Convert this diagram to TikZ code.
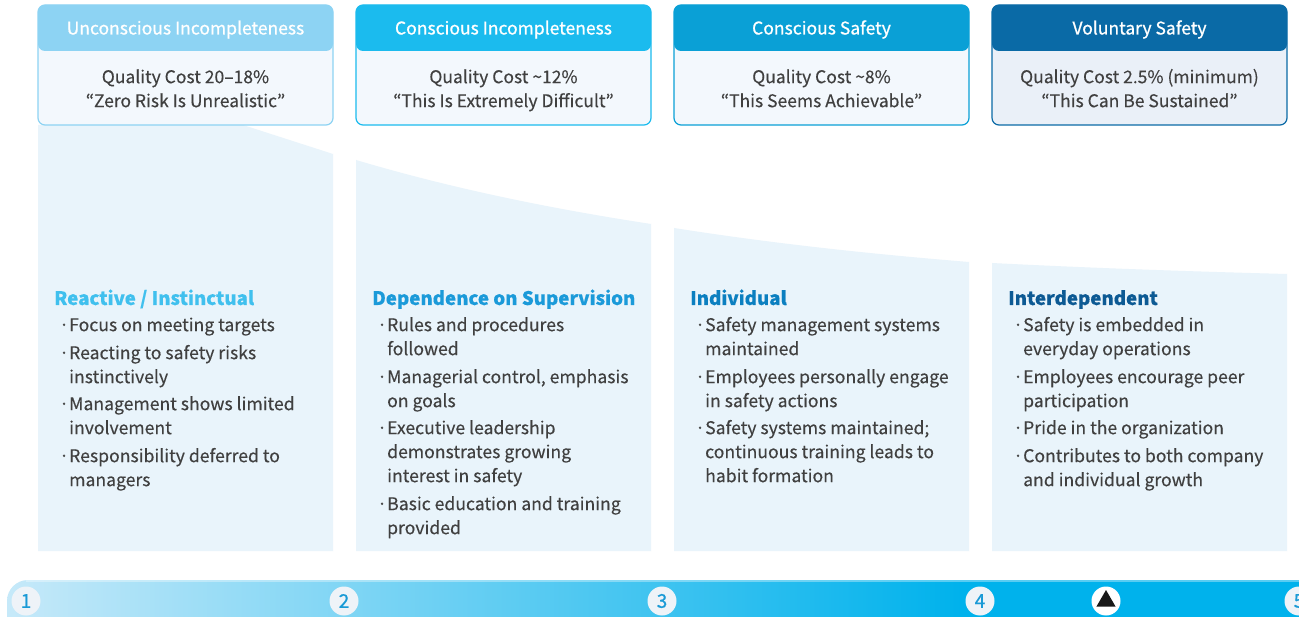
\documentclass[tikz,border=0pt]{standalone}
\usepackage{fontspec}
\setmainfont[FakeBold=0.3]{Noto Sans CJK KR}
\newfontfamily\medfont[FakeBold=0.8]{Noto Sans CJK KR}
\usetikzlibrary{shapes.geometric}
\definecolor{hA}{HTML}{8DD3F3}
\definecolor{hB}{HTML}{1BBBEE}
\definecolor{hC}{HTML}{0AA0D6}
\definecolor{hD}{HTML}{0A6AA6}
\definecolor{bodyA}{HTML}{F3F8FD}
\definecolor{bodyD}{HTML}{EAF0F8}
\definecolor{panelc}{HTML}{E9F4FB}
\definecolor{txt}{HTML}{404040}
\definecolor{tA}{HTML}{40C0EE}
\definecolor{tB}{HTML}{1B9AD9}
\definecolor{tC}{HTML}{0B7FC0}
\definecolor{tD}{HTML}{0D5A94}
\definecolor{barL}{HTML}{C6E9F9}
\definecolor{barR}{HTML}{00B2EC}
\definecolor{circfill}{HTML}{EEF3F8}
\definecolor{numc}{HTML}{1A9AD6}
\newcommand{\fl}{\rule{0pt}{18pt}}
\newcommand{\bu}{\makebox[10pt][l]{·}}
\newcommand{\ii}{\hspace*{10pt}}
\tikzset{
  htitle/.style={text=white, font=\medfont\fontsize{17.5}{24}\selectfont, anchor=base, inner sep=0},
  hbody/.style={text=txt, font=\fontsize{17.5}{24}\selectfont, anchor=north, align=center, inner sep=0},
  ptitle/.style={font=\fontsize{18.7}{24}\selectfont\bfseries, anchor=base west, inner sep=0},
  item/.style={text=txt, font=\fontsize{17.6}{24}\selectfont, anchor=north west, align=left, inner sep=0},
  circ/.style={circle, fill=circfill, minimum size=29pt, inner sep=0, text=numc, font=\medfont\fontsize{19}{20}\selectfont},
}
\begin{document}
\begin{tikzpicture}[x=1pt,y=-1pt]
\useasboundingbox (0,0) rectangle (1299,617);
\clip (0,0) rectangle (1299,617);
\fill[white] (0,0) rectangle (1299,617);
% panels
\fill[panelc] (38,125) -- (243,125) -- (333,154) -- (333,551) -- (38,551) -- cycle;
\fill[panelc] (356,160) .. controls (454.3,189.2) and (552.7,208.9) .. (651,224) -- (651,551) -- (356,551) -- cycle;
\fill[panelc] (674,228) .. controls (772.3,243.5) and (870.7,254) .. (969,262) -- (969,551) -- (674,551) -- cycle;
\fill[panelc] (992,263) .. controls (1090.3,268) and (1188.7,271.4) .. (1287,274) -- (1287,551) -- (992,551) -- cycle;
% header boxes
\foreach \xl/\hc/\bc in {38/hA/bodyA, 356/hB/bodyA, 674/hC/bodyA, 992/hD/bodyD}{
  \fill[\bc, rounded corners=7] (\xl,5) rectangle ({\xl+295},125);
  \fill[\hc, rounded corners=7] (\xl,51) -- (\xl,5) -- ({\xl+295},5) -- ({\xl+295},51) -- cycle;
  \draw[\hc, line width=1.2, rounded corners=7] (\xl,5) rectangle ({\xl+295},125);
}
\node[htitle] (hta) at (185.5,34.5) {Unconscious Incompleteness};
\node[htitle] (htb) at (503.5,34.5) {Conscious Incompleteness};
\node[htitle] (htc) at (821.5,34.5) {Conscious Safety};
\node[htitle] (htd) at (1139.5,34.5) {Voluntary Safety};
\node[hbody] (hba) at (185.5,65) {\fl Quality Cost 20–18\%\\“Zero Risk Is Unrealistic”};
\node[hbody] (hbb) at (503.5,65) {\fl Quality Cost \textasciitilde12\%\\“This Is Extremely Difficult”};
\node[hbody] (hbc) at (821.5,65) {\fl Quality Cost \textasciitilde8\%\\“This Seems Achievable”};
\node[hbody] (hbd) at (1139.5,65) {\fl Quality Cost 2.5\% (minimum)\\“This Can Be Sustained”};
% panel 1
\node[ptitle, text=tA] (pa) at (54,305) {Reactive / Instinctual};
\node[item] (a1) at (59,313) {\fl\bu Focus on meeting targets};
\node[item] (a2) at (59,341) {\fl\bu Reacting to safety risks\\\ii instinctively};
\node[item] (a3) at (59,392) {\fl\bu Management shows limited\\\ii involvement};
\node[item] (a4) at (59,444) {\fl\bu Responsibility deferred to\\\ii managers};
% panel 2
\node[ptitle, text=tB] (pb) at (372,305) {Dependence on Supervision};
\node[item] (b1) at (377,313) {\fl\bu Rules and procedures\\\ii followed};
\node[item] (b2) at (377,365) {\fl\bu Managerial control, emphasis\\\ii on goals};
\node[item] (b3) at (377,416) {\fl\bu Executive leadership\\\ii demonstrates growing\\\ii interest in safety};
\node[item] (b4) at (377,492) {\fl\bu Basic education and training\\\ii provided};
% panel 3
\node[ptitle, text=tC] (pc) at (690,305) {Individual};
\node[item] (c1) at (695,313) {\fl\bu Safety management systems\\\ii maintained};
\node[item] (c2) at (695,365) {\fl\bu Employees personally engage\\\ii in safety actions};
\node[item] (c3) at (695,416) {\fl\bu Safety systems maintained;\\\ii continuous training leads to\\\ii habit formation};
% panel 4
\node[ptitle, text=tD] (pd) at (1008,305) {Interdependent};
\node[item] (d1) at (1013,313) {\fl\bu Safety is embedded in\\\ii everyday operations};
\node[item] (d2) at (1013,365) {\fl\bu Employees encourage peer\\\ii participation};
\node[item] (d3) at (1013,416) {\fl\bu Pride in the organization};
\node[item] (d4) at (1013,444) {\fl\bu Contributes to both company\\\ii and individual growth};
% bottom bar
\shade[left color=barL, right color=barR, rounded corners=21] (961,580) -- (7,580) -- (7,640) -- (961,640);
\fill[barR] (960,580) rectangle (1300,640);
\draw[white, opacity=0.35, line width=1.5] (26,580.8) -- (1299,580.8);
\node[circ] (n1) at (26,601) {1};
\node[circ] (n2) at (344,601) {2};
\node[circ] (n3) at (662,601) {3};
\node[circ] (n4) at (980,601) {4};
\node[circ, fill=white] (nt) at (1106,601) {};
\node[regular polygon, regular polygon sides=3, fill=black!90, inner sep=0, minimum size=22pt] (tri) at (nt.center) {};
\node[circ] (n5) at (1299,601) {5};
\end{tikzpicture}
\end{document}
